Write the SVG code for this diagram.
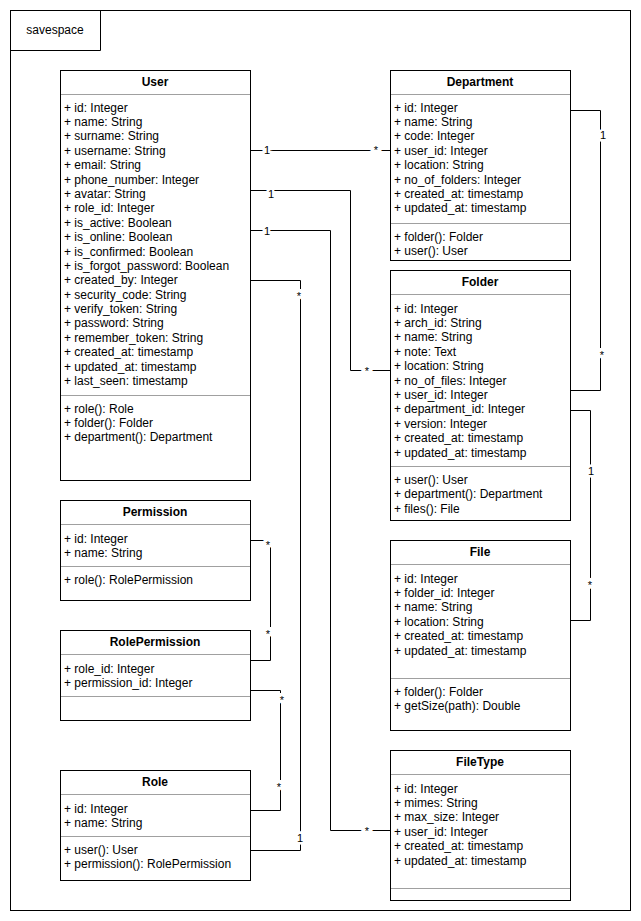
<svg xmlns="http://www.w3.org/2000/svg" width="641" height="921" viewBox="0 0 641 921">
<style>
.box{fill:#fff;stroke:#000;stroke-width:1}
.sep{stroke:#a0a0a0;stroke-width:1}
.hd{font-family:"Liberation Sans",Arial,sans-serif;font-size:12px;font-weight:bold;text-anchor:middle;fill:#000}
.at{font-family:"Liberation Sans",Arial,sans-serif;font-size:12px;fill:#000}
.ln{fill:none;stroke:#000;stroke-width:1}
.lb{font-family:"Liberation Sans",Arial,sans-serif;font-size:11px;fill:#000;text-anchor:middle;paint-order:stroke;stroke:#fff;stroke-width:5px}
.st{font-family:"Liberation Sans",Arial,sans-serif;font-size:11px;fill:#000;text-anchor:middle;paint-order:stroke;stroke:#fff;stroke-width:6px}
</style>
<rect x="0" y="0" width="641" height="921" fill="#fff"/>
<g id="frame">
<rect x="10.5" y="10.5" width="620" height="900" fill="#fff" stroke="#000"/>
<path d="M10.5 50.5H100.5V10.5" class="ln"/>
<text x="55" y="34" class="at" text-anchor="middle">savespace</text>
</g>
<g id="connectors">
<path class="ln" d="M250.5 150.5H390.5"/>
<path class="ln" d="M250.5 190.5H350.5V370.5H390.5"/>
<path class="ln" d="M250.5 230.5H330.5V830.5H390.5"/>
<path class="ln" d="M250.5 280.5H300.5V850.5H250.5"/>
<path class="ln" d="M570.5 110.5H600.5V390.5H570.5"/>
<path class="ln" d="M570.5 410.5H590.5V620.5H570.5"/>
<path class="ln" d="M250.5 540.5H270.5V660.5H250.5"/>
<path class="ln" d="M250.5 690.5H280.5V810.5H250.5"/>
<text class="lb" x="267" y="154">1</text>
<text class="st" x="376" y="154">*</text>
<text class="lb" x="271" y="198">1</text>
<text class="st" x="367" y="375">*</text>
<text class="lb" x="267" y="235">1</text>
<text class="st" x="367" y="835">*</text>
<text class="st" x="299" y="300">*</text>
<text class="lb" x="300" y="842">1</text>
<text class="lb" x="603" y="139">1</text>
<text class="st" x="602" y="359">*</text>
<text class="lb" x="591" y="475">1</text>
<text class="st" x="590" y="589">*</text>
<text class="st" x="268" y="549">*</text>
<text class="st" x="268" y="638">*</text>
<text class="st" x="282" y="704">*</text>
<text class="st" x="279" y="791">*</text>
</g>
<g id="User">
<rect class="box" x="60.5" y="70.5" width="190" height="410"/>
<line class="sep" x1="61" y1="94.5" x2="250" y2="94.5"/>
<line class="sep" x1="61" y1="395.5" x2="250" y2="395.5"/>
<text class="hd" x="155" y="86">User</text>
<text class="at" x="64" y="111.5"><tspan x="64">+ id: Integer</tspan><tspan x="64" dy="14.4">+ name: String</tspan><tspan x="64" dy="14.4">+ surname: String</tspan><tspan x="64" dy="14.4">+ username: String</tspan><tspan x="64" dy="14.4">+ email: String</tspan><tspan x="64" dy="14.4">+ phone_number: Integer</tspan><tspan x="64" dy="14.4">+ avatar: String</tspan><tspan x="64" dy="14.4">+ role_id: Integer</tspan><tspan x="64" dy="14.4">+ is_active: Boolean</tspan><tspan x="64" dy="14.4">+ is_online: Boolean</tspan><tspan x="64" dy="14.4">+ is_confirmed: Boolean</tspan><tspan x="64" dy="14.4">+ is_forgot_password: Boolean</tspan><tspan x="64" dy="14.4">+ created_by: Integer</tspan><tspan x="64" dy="14.4">+ security_code: String</tspan><tspan x="64" dy="14.4">+ verify_token: String</tspan><tspan x="64" dy="14.4">+ password: String</tspan><tspan x="64" dy="14.4">+ remember_token: String</tspan><tspan x="64" dy="14.4">+ created_at: timestamp</tspan><tspan x="64" dy="14.4">+ updated_at: timestamp</tspan><tspan x="64" dy="14.4">+ last_seen: timestamp</tspan></text>
<text class="at" x="64" y="412.5"><tspan x="64">+ role(): Role</tspan><tspan x="64" dy="14.4">+ folder(): Folder</tspan><tspan x="64" dy="14.4">+ department(): Department</tspan></text>
</g>
<g id="Department">
<rect class="box" x="390.5" y="70.5" width="180" height="190"/>
<line class="sep" x1="391" y1="94.5" x2="570" y2="94.5"/>
<line class="sep" x1="391" y1="223.5" x2="570" y2="223.5"/>
<text class="hd" x="480" y="86">Department</text>
<text class="at" x="394" y="111.5"><tspan x="394">+ id: Integer</tspan><tspan x="394" dy="14.4">+ name: String</tspan><tspan x="394" dy="14.4">+ code: Integer</tspan><tspan x="394" dy="14.4">+ user_id: Integer</tspan><tspan x="394" dy="14.4">+ location: String</tspan><tspan x="394" dy="14.4">+ no_of_folders: Integer</tspan><tspan x="394" dy="14.4">+ created_at: timestamp</tspan><tspan x="394" dy="14.4">+ updated_at: timestamp</tspan></text>
<text class="at" x="394" y="241"><tspan x="394">+ folder(): Folder</tspan><tspan x="394" dy="14.4">+ user(): User</tspan></text>
</g>
<g id="Folder">
<rect class="box" x="390.5" y="270.5" width="180" height="250"/>
<line class="sep" x1="391" y1="294.5" x2="570" y2="294.5"/>
<line class="sep" x1="391" y1="466.5" x2="570" y2="466.5"/>
<text class="hd" x="480" y="286">Folder</text>
<text class="at" x="394" y="312.5"><tspan x="394">+ id: Integer</tspan><tspan x="394" dy="14.4">+ arch_id: String</tspan><tspan x="394" dy="14.4">+ name: String</tspan><tspan x="394" dy="14.4">+ note: Text</tspan><tspan x="394" dy="14.4">+ location: String</tspan><tspan x="394" dy="14.4">+ no_of_files: Integer</tspan><tspan x="394" dy="14.4">+ user_id: Integer</tspan><tspan x="394" dy="14.4">+ department_id: Integer</tspan><tspan x="394" dy="14.4">+ version: Integer</tspan><tspan x="394" dy="14.4">+ created_at: timestamp</tspan><tspan x="394" dy="14.4">+ updated_at: timestamp</tspan></text>
<text class="at" x="394" y="484"><tspan x="394">+ user(): User</tspan><tspan x="394" dy="14.4">+ department(): Department</tspan><tspan x="394" dy="14.4">+ files(): File</tspan></text>
</g>
<g id="File">
<rect class="box" x="390.5" y="540.5" width="180" height="190"/>
<line class="sep" x1="391" y1="564.5" x2="570" y2="564.5"/>
<line class="sep" x1="391" y1="678.5" x2="570" y2="678.5"/>
<text class="hd" x="480" y="556">File</text>
<text class="at" x="394" y="582.5"><tspan x="394">+ id: Integer</tspan><tspan x="394" dy="14.4">+ folder_id: Integer</tspan><tspan x="394" dy="14.4">+ name: String</tspan><tspan x="394" dy="14.4">+ location: String</tspan><tspan x="394" dy="14.4">+ created_at: timestamp</tspan><tspan x="394" dy="14.4">+ updated_at: timestamp</tspan></text>
<text class="at" x="394" y="696"><tspan x="394">+ folder(): Folder</tspan><tspan x="394" dy="14.4">+ getSize(path): Double</tspan></text>
</g>
<g id="FileType">
<rect class="box" x="390.5" y="750.5" width="180" height="150"/>
<line class="sep" x1="391" y1="774.5" x2="570" y2="774.5"/>
<line class="sep" x1="391" y1="888.5" x2="570" y2="888.5"/>
<text class="hd" x="480" y="766">FileType</text>
<text class="at" x="394" y="792.5"><tspan x="394">+ id: Integer</tspan><tspan x="394" dy="14.4">+ mimes: String</tspan><tspan x="394" dy="14.4">+ max_size: Integer</tspan><tspan x="394" dy="14.4">+ user_id: Integer</tspan><tspan x="394" dy="14.4">+ created_at: timestamp</tspan><tspan x="394" dy="14.4">+ updated_at: timestamp</tspan></text>
</g>
<g id="Permission">
<rect class="box" x="60.5" y="500.5" width="190" height="100"/>
<line class="sep" x1="61" y1="524.5" x2="250" y2="524.5"/>
<line class="sep" x1="61" y1="566.5" x2="250" y2="566.5"/>
<text class="hd" x="155" y="516">Permission</text>
<text class="at" x="64" y="542.5"><tspan x="64">+ id: Integer</tspan><tspan x="64" dy="14.4">+ name: String</tspan></text>
<text class="at" x="64" y="584">+ role(): RolePermission</text>
</g>
<g id="RolePermission">
<rect class="box" x="60.5" y="630.5" width="190" height="90"/>
<line class="sep" x1="61" y1="654.5" x2="250" y2="654.5"/>
<line class="sep" x1="61" y1="696.5" x2="250" y2="696.5"/>
<text class="hd" x="155" y="646">RolePermission</text>
<text class="at" x="64" y="672.5"><tspan x="64">+ role_id: Integer</tspan><tspan x="64" dy="14.4">+ permission_id: Integer</tspan></text>
</g>
<g id="Role">
<rect class="box" x="60.5" y="770.5" width="190" height="110"/>
<line class="sep" x1="61" y1="794.5" x2="250" y2="794.5"/>
<line class="sep" x1="61" y1="836.5" x2="250" y2="836.5"/>
<text class="hd" x="155" y="786">Role</text>
<text class="at" x="64" y="812.5"><tspan x="64">+ id: Integer</tspan><tspan x="64" dy="14.4">+ name: String</tspan></text>
<text class="at" x="64" y="854"><tspan x="64">+ user(): User</tspan><tspan x="64" dy="14.4">+ permission(): RolePermission</tspan></text>
</g>
</svg>
